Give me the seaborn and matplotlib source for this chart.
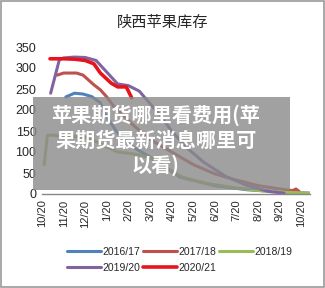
import pandas as pd
import seaborn as sns
import matplotlib.pyplot as plt
from matplotlib.patches import Rectangle

# months counted from 10/20 (0) to the next 10/20 (12)
tick_labels = ["10/20", "11/20", "12/20", "1/20", "2/20", "3/20", "4/20",
               "5/20", "6/20", "7/20", "8/20", "9/20", "10/20"]

m_1617 = [1.1, 1.5, 1.9, 2.3, 2.7, 3.0, 3.5, 4.2, 5.0, 5.7, 6.4, 7.2, 8.0, 9.5, 11.0, 12.4]
v_1617 = [231, 240, 238, 232, 217, 183, 145, 112, 88, 64, 40, 30, 20, 10, 5, 2]

m_1718 = [0.7, 1.0, 1.6, 1.9, 2.4, 2.7, 3.0, 3.3, 3.7, 4.2, 5.0, 6.0, 7.0, 8.0, 9.0, 10.0, 11.0, 11.6, 11.75, 11.9]
v_1718 = [283, 288, 288, 283, 260, 248, 231, 210, 190, 165, 130, 100, 70, 48, 33, 20, 12, 8, 12, 6]

m_1819 = [0.1, 0.25, 0.5, 1.0, 1.5, 2.0, 2.5, 3.0, 3.5, 4.0, 4.5, 5.0, 5.7, 6.5, 7.5, 9.0, 10.5, 12.4]
v_1819 = [70, 140, 140, 138, 137, 135, 125, 112, 100, 97, 93, 86, 64, 40, 26, 14, 6, 2]

m_1920 = [0.4, 0.8, 1.0, 1.5, 2.0, 2.5, 3.0, 3.5, 4.0, 4.5, 5.0, 5.5, 6.0, 6.7, 7.5, 8.5, 9.5, 10.5, 11.2]
v_1920 = [240, 319, 324, 326, 325, 318, 290, 262, 258, 245, 215, 185, 150, 110, 75, 42, 20, 6, 2]

m_2021 = [0.37, 1.0, 1.5, 2.0, 2.4, 2.7, 3.2, 3.5, 3.9, 4.15]
v_2021 = [322, 322, 321, 318, 310, 288, 264, 255, 255, 229]

series = ["2016/17", "2017/18", "2018/19", "2019/20", "2020/21"]
colors = ["#4F81BD", "#C0504D", "#9BBB59", "#8064A2", "#E8141C"]

frames = []
for name, m, v in zip(series, [m_1617, m_1718, m_1819, m_1920, m_2021],
                      [v_1617, v_1718, v_1819, v_1920, v_2021]):
    frames.append(pd.DataFrame({"month": m, "stock": v, "season": name}))
df = pd.concat(frames, ignore_index=True)

sns.set_style("white")
plt.rcParams['font.family'] = ['Noto Sans CJK SC', 'DejaVu Sans']

fig = plt.figure(figsize=(3.25, 2.88), dpi=100)
ax = fig.add_axes([42 / 325, 1 - 194 / 288, (310 - 42) / 325, (194 - 47) / 288])

sns.lineplot(data=df, x="month", y="stock", hue="season", palette=colors,
             hue_order=series, sort=False, linewidth=2.2, ax=ax, legend=False)
# the newest season sits on top and a bit thicker
ax.lines[-1].set_linewidth(2.6)

ax.set_xlim(0, 12.4)
ax.set_ylim(0, 350)
ax.set_xticks(range(13))
ax.set_xticklabels(tick_labels, rotation=90, fontsize=8, family="Liberation Sans")
ax.set_yticks(range(0, 351, 50))
ax.set_yticklabels([str(t) for t in range(0, 351, 50)], fontsize=9, family="Liberation Sans")
ax.tick_params(axis="both", length=0, pad=4)
ax.set_xlabel("")
ax.set_ylabel("")
for s in ["top", "right", "left"]:
    ax.spines[s].set_visible(False)
ax.spines["bottom"].set_color("#868686")
ax.spines["bottom"].set_linewidth(1)

fig.text(0.5, 1 - 22 / 288, "陕西苹果库存", ha="center", va="center", fontsize=11)

# legend in row order, two rows
handles = ax.lines[:5]
order = [0, 3, 1, 4, 2]
fig.legend([handles[i] for i in order], [series[i] for i in order],
           loc="center left", bbox_to_anchor=(58 / 325, 1 - 260 / 288), ncol=3, frameon=False,
           handlelength=3.2, handletextpad=0.15, columnspacing=0.3,
           labelspacing=0.6, prop={"family": "Liberation Sans", "size": 7.5})

# grey banner over the chart
fig.patches.append(Rectangle((33 / 325, 1 - 190 / 288), 257 / 325, 93 / 288,
                             transform=fig.transFigure, facecolor="#8a8a8a",
                             alpha=0.8, edgecolor="none", zorder=5))
fig.text(156 / 325, 1 - 140 / 288, "苹果期货哪里看费用(苹\n果期货最新消息哪里可\n以看)",
         ha="center", va="center", color="white", fontsize=14.5, fontweight="bold",
         linespacing=1.2, zorder=6)

fig.patches.append(Rectangle((0.002, 0.002), 0.996, 0.996, transform=fig.transFigure,
                             facecolor="none", edgecolor="#9a9a9a", linewidth=1.2, zorder=7))

fig.savefig("out.png", dpi=100)
